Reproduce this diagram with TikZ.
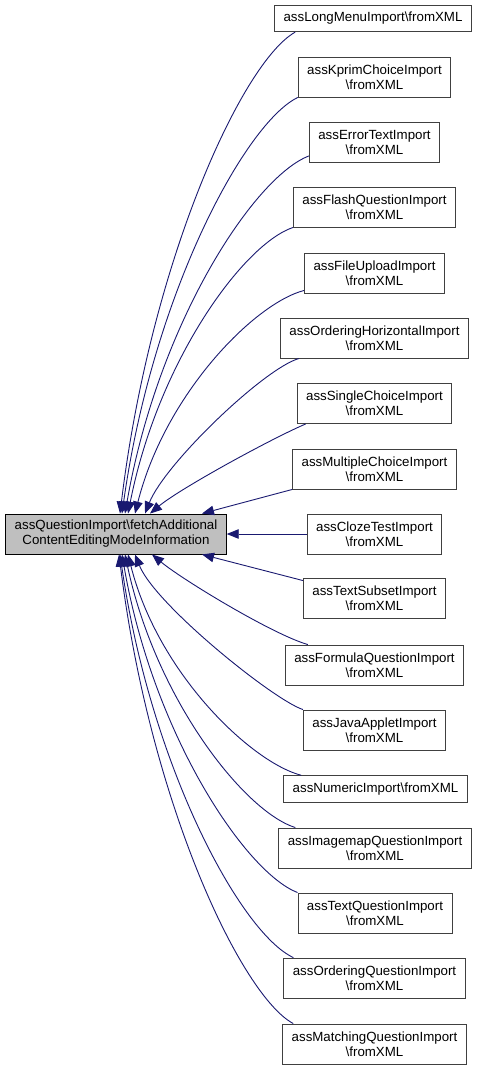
\documentclass[tikz,border=0pt]{standalone}
\usepackage{fontspec}
\setmainfont{Liberation Sans}
\usetikzlibrary{arrows.meta}
\definecolor{edgeblue}{HTML}{191970}
\definecolor{boxline}{HTML}{404040}
\definecolor{boxfill}{HTML}{BFBFBF}

\begin{document}
\begin{tikzpicture}[x=1bp, y=-1bp,
    fn/.style={draw=boxline, fill=white, line width=0.9bp, inner xsep=9bp, inner ysep=0bp,
      minimum height=40bp, align=center, font=\fontsize{13.3bp}{15bp}\selectfont},
    fn1/.style={fn, minimum height=26.5bp},
    caller/.style={draw=edgeblue, line width=0.9bp, -{Triangle[length=12bp,width=9.5bp]}}]
  \useasboundingbox (0,0) rectangle (479,1070);
  % the called function
  \node[fn, fill=boxfill, draw=black] at (116, 534) (main) {assQuestionImport\textbackslash fetchAdditional\\ContentEditingModeInformation};
  % the callers
  \node[fn1] at (373, 18.5) (lm) {assLongMenuImport\textbackslash fromXML};
  \node[fn] at (374.5, 77) (kc) {assKprimChoiceImport\\\textbackslash fromXML};
  \node[fn] at (374.5, 142.5) (et) {assErrorTextImport\\\textbackslash fromXML};
  \node[fn] at (374.5, 207) (fq) {assFlashQuestionImport\\\textbackslash fromXML};
  \node[fn] at (374.5, 273) (fu) {assFileUploadImport\\\textbackslash fromXML};
  \node[fn] at (374.5, 338) (oh) {assOrderingHorizontalImport\\\textbackslash fromXML};
  \node[fn] at (374.5, 403.5) (sc) {assSingleChoiceImport\\\textbackslash fromXML};
  \node[fn] at (374.5, 469) (mc) {assMultipleChoiceImport\\\textbackslash fromXML};
  \node[fn] at (374.5, 534) (ct) {assClozeTestImport\\\textbackslash fromXML};
  \node[fn] at (374.5, 598) (ts) {assTextSubsetImport\\\textbackslash fromXML};
  \node[fn] at (374.5, 665) (fo) {assFormulaQuestionImport\\\textbackslash fromXML};
  \node[fn] at (374.5, 730) (ja) {assJavaAppletImport\\\textbackslash fromXML};
  \node[fn1] at (375.5, 789) (nu) {assNumericImport\textbackslash fromXML};
  \node[fn] at (375, 848) (im) {assImagemapQuestionImport\\\textbackslash fromXML};
  \node[fn] at (375, 913) (tq) {assTextQuestionImport\\\textbackslash fromXML};
  \node[fn] at (374.5, 978) (oq) {assOrderingQuestionImport\\\textbackslash fromXML};
  \node[fn] at (374.5, 1044) (mq) {assMatchingQuestionImport\\\textbackslash fromXML};
  % upper edges
  \draw[caller] ([xshift=21bp]lm.south west) .. controls +(-52,29) and +(31,-255) .. ([xshift=4bp]main.north);
  \draw[caller] (kc.south west) .. controls +(-52,25) and +(31,-221) .. ([xshift=6bp]main.north);
  \draw[caller] ([yshift=7bp]et.south west) .. controls +(-55,21) and +(33,-190) .. ([xshift=9bp]main.north);
  \draw[caller] (fq.south west) .. controls +(-50,17) and +(30,-152) .. ([xshift=12bp]main.north);
  \draw[caller] ([yshift=3bp]fu.south west) .. controls +(-50,13) and +(30,-119) .. ([xshift=19bp]main.north);
  \draw[caller] ([xshift=19bp]oh.south west) .. controls +(-35,10) and +(20,-50) .. ([xshift=29bp]main.north);
  \draw[caller] ([xshift=9bp]sc.south west) .. controls +(-35,15) and +(30,-25) .. ([xshift=34bp]main.north);
  \draw[caller] (mc.south west) -- ([xshift=86bp]main.north);
  % middle edge
  \draw[caller] (ct) -- (main);
  % lower edges
  \draw[caller] ([yshift=-3bp]ts.north west) -- ([xshift=86bp]main.south);
  \draw[caller] ([xshift=23bp]fo.north west) .. controls +(-35,-10) and +(30,25) .. ([xshift=36bp]main.south);
  \draw[caller] (ja.north west) .. controls +(-30,-10) and +(20,50) .. ([xshift=19bp]main.south);
  \draw[caller] ([xshift=18bp]nu.north west) .. controls +(-50,-13) and +(30,119) .. ([xshift=12bp]main.south);
  \draw[caller] ([xshift=17bp]im.north west) .. controls +(-51,-16) and +(31,145) .. ([xshift=9bp]main.south);
  \draw[caller] (tq.north west) .. controls +(-52,-20) and +(31,180) .. ([xshift=6bp]main.south);
  \draw[caller] ([xshift=10bp]oq.north west) .. controls +(-52,-24) and +(31,214) .. ([xshift=4bp]main.south);
  \draw[caller] ([xshift=11bp]mq.north west) .. controls +(-52,-28) and +(31,249) .. ([xshift=3bp]main.south);
\end{tikzpicture}
\end{document}
